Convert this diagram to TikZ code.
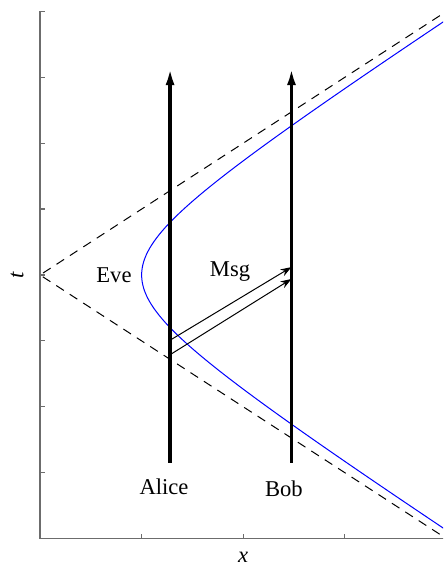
\documentclass[tikz,border=0pt]{standalone}
\usepackage{fontspec}
\setmainfont{Liberation Serif}
\usetikzlibrary{arrows.meta,calc}

\begin{document}
\begin{tikzpicture}[x=50.8pt, y=32.95pt, >=Latex,
  every node/.style={font=\fontsize{11.3}{13}\selectfont},
  axisline/.style={gray!85!black, line width=0.6pt},
  worldline/.style={line width=1.6pt, -{Latex[length=8.5pt,width=4.5pt]}},
  msgline/.style={line width=0.5pt, -{Stealth[length=5.5pt,width=3.8pt]}},
  cone/.style={line width=0.5pt, dash pattern=on 4.5pt off 3.5pt}
]
  \useasboundingbox (-0.394,-4.401) rectangle (3.967,4.173);
  \clip (-0.394,-4.401) rectangle (3.967,4.173);

  \coordinate (O) at (0,0);
  \coordinate (corner) at (0,-4);
  \coordinate (ttop) at (0,4);
  \coordinate (xend) at (4.2,-4);

  % axes with ticks
  \draw[axisline] (ttop) -- (corner) -- (xend);
  \foreach \k in {-3,...,4}
    \draw[axisline] (0,\k) -- ++(0.05,0);
  \foreach \k in {1,2,3}
    \draw[axisline] (\k,-4) -- ++(0,0.076);
  \node[rotate=90] (tlab) at (-0.226,0) {\textit{t}};
  \node (xlab) at (2.0,-4.28) {\textit{x}};

  % light cone and Eve's hyperbola
  \coordinate (coneup) at (4.2,4.2);
  \coordinate (conedown) at (4.2,-4.2);
  \draw[cone] (coneup) -- (O) -- (conedown);
  \draw[blue, line width=0.5pt] plot[smooth, samples=81, domain=-4.1:4.1] ({sqrt(1+\x*\x)},\x);
  \node (eve) at (0.728,0) {Eve};

  % Alice and Bob
  \coordinate (alice0) at (1.28,-2.85);
  \coordinate (alice1) at (1.28,3.14);
  \coordinate (bob0) at (2.475,-2.85);
  \coordinate (bob1) at (2.475,3.14);
  \draw[worldline] (alice0) -- (alice1);
  \draw[worldline] (bob0) -- (bob1);
  \node (alice) at (1.22,-3.22) {Alice};
  \node (bob) at (2.40,-3.25) {Bob};

  % the two signals
  \coordinate (sendA) at (1.28,-0.99);
  \coordinate (sendB) at (1.28,-1.21);
  \coordinate (getA) at (2.475,0.12);
  \coordinate (getB) at (2.475,-0.06);
  \draw[msgline] (sendA) -- (getA);
  \draw[msgline] (sendB) -- (getB);
  \node (msg) at (1.87,0.05) {Msg};
\end{tikzpicture}
\end{document}
